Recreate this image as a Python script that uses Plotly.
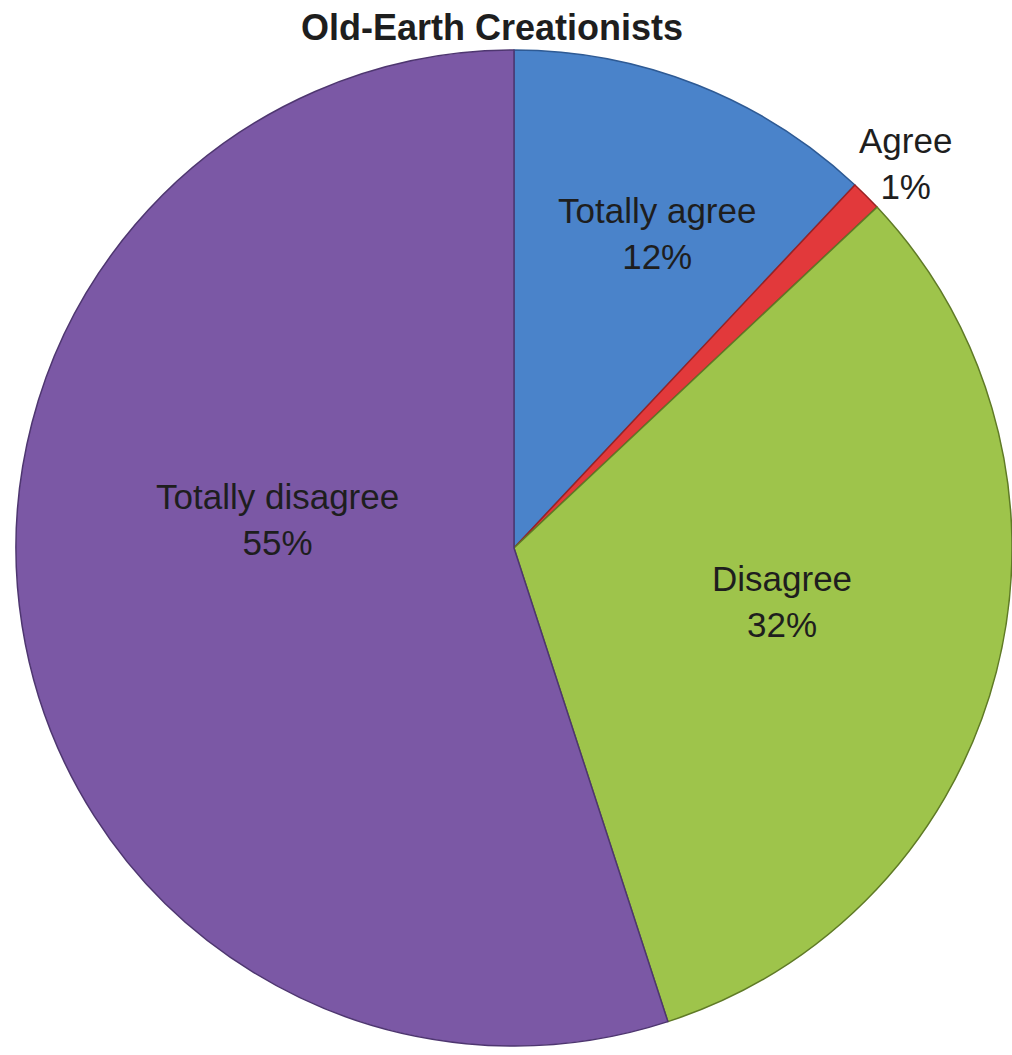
import plotly.graph_objects as go

# Survey responses, Old-Earth Creationists
categories = ["Totally agree", "Agree", "Disagree", "Totally disagree"]
shares = [12, 1, 32, 55]

slice_colors = ["#4a83ca", "#e2393b", "#9ec44b", "#7b58a5"]
edge_colors = ["#2e5a94", "#9a2224", "#5f7a26", "#4e3670"]

W, H = 1012, 1055

fig = go.Figure(
    go.Pie(
        labels=categories,
        values=shares,
        sort=False,
        direction="clockwise",
        rotation=0,
        textinfo="none",
        hoverinfo="label+percent",
        marker=dict(colors=slice_colors, line=dict(color=edge_colors, width=1.5)),
        domain=dict(x=[16 / W, 1.0], y=[1 - 1046 / H, 1 - 50 / H]),
        showlegend=False,
    )
)

# label anchor points (pixels in the page)
label_pos = [(657, 234), (905, 163), (782, 601), (277, 519)]
for name, val, (px, py) in zip(categories, shares, label_pos):
    fig.add_annotation(
        x=px / W, y=1 - py / H, xref="paper", yref="paper",
        text=f"{name}<br>{val}%", showarrow=False,
        font=dict(family="Liberation Sans, Arial, sans-serif", size=35, color="#1e1e1e"),
        align="center", xanchor="center", yanchor="middle",
    )

fig.update_layout(
    width=W, height=H,
    margin=dict(l=0, r=0, t=0, b=0),
    paper_bgcolor="white", plot_bgcolor="white",
    title=dict(
        text="<b>Old-Earth Creationists</b>",
        x=492 / W, xanchor="center", y=1 - 27 / H, yanchor="middle",
        font=dict(family="Liberation Sans, Arial, sans-serif", size=36, color="#1e1e1e"),
    ),
)

fig.write_html("out.html")
